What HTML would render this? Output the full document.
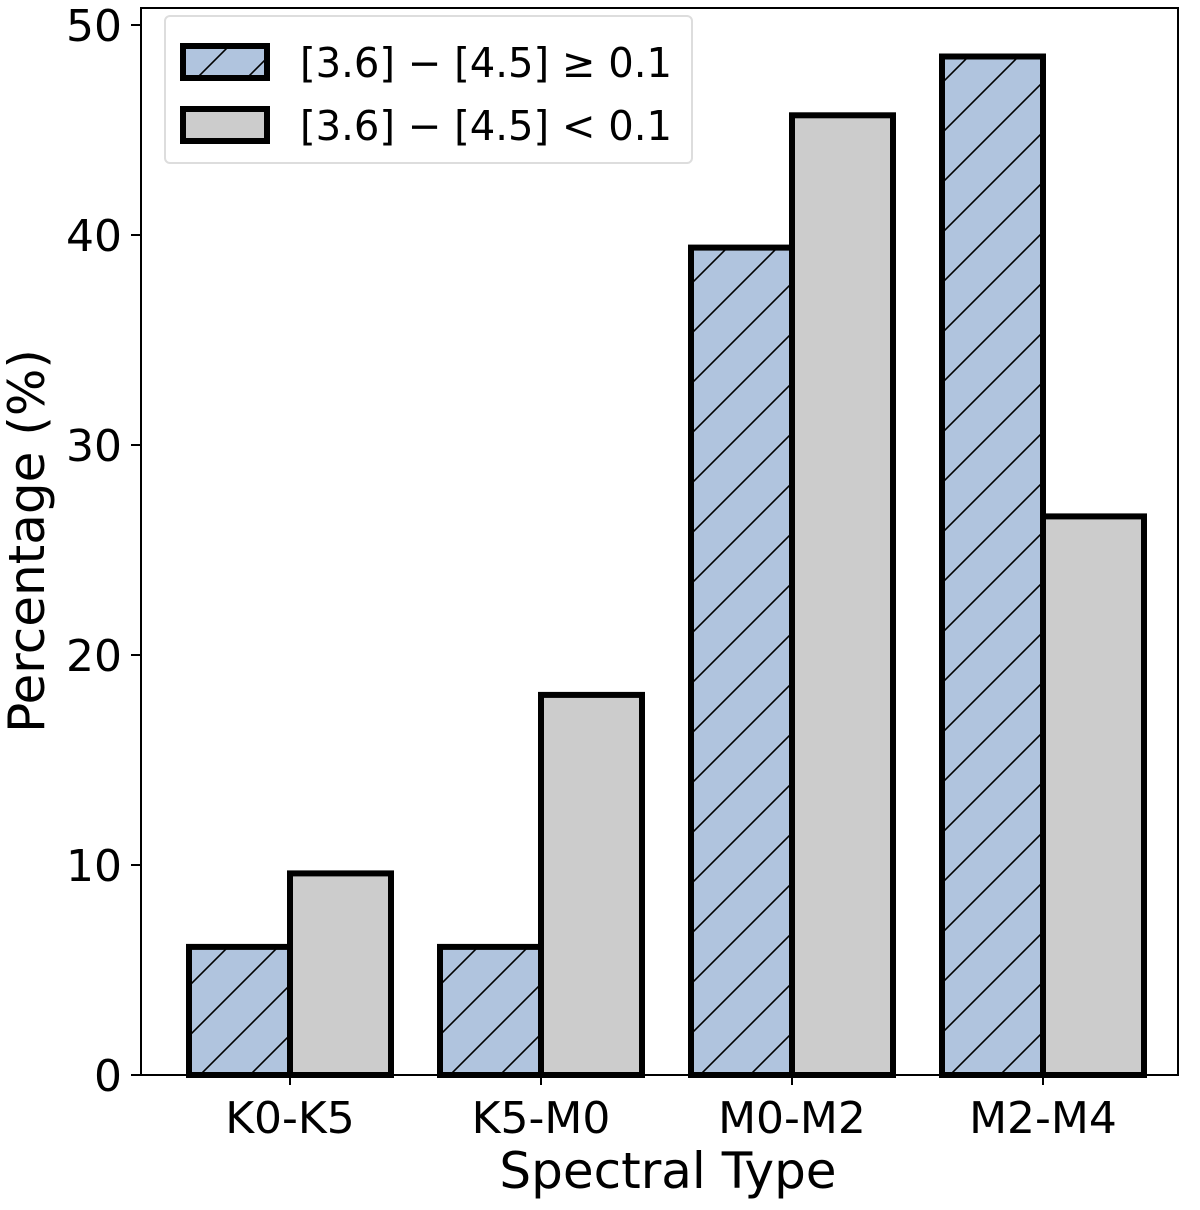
<!DOCTYPE html>
<html><head><meta charset="utf-8"><style>
html,body{margin:0;padding:0;background:#fff}
svg text{font-family:"DejaVu Sans","Liberation Sans",sans-serif;fill:#000}
</style></head><body>
<svg width="1200" height="1205" viewBox="0 0 1200 1205" xmlns="http://www.w3.org/2000/svg">
<defs>
<pattern id="hatch" patternUnits="userSpaceOnUse" width="50" height="50" x="0" y="25">
<rect width="50" height="50" fill="#b0c4de"/>
<path d="M-5,5 L5,-5 M0,50 L50,0 M45,55 L55,45" stroke="#000" stroke-width="1.6"/>
</pattern>
</defs>
<g id="bars"></g>
<rect x="141" y="8" width="1037" height="1067" fill="none" stroke="#000" stroke-width="2"/>
<g id="axes"></g>
<text x="668" y="1188" font-size="50" text-anchor="middle">Spectral Type</text>
<text transform="translate(44,541) rotate(-90)" font-size="50" text-anchor="middle">Percentage (%)</text>
<g>
<rect x="165" y="16" width="527" height="147" rx="5" fill="#fff" fill-opacity="0.8" stroke="#ddd" stroke-width="2"/>
<rect x="183" y="46" width="84" height="32" fill="url(#hatch)" stroke="#000" stroke-width="6"/>
<text x="300" y="77" font-size="41" textLength="372" lengthAdjust="spacingAndGlyphs">[3.6] − [4.5] ≥ 0.1</text>
<rect x="183" y="109" width="84" height="32" fill="#cccccc" stroke="#000" stroke-width="6"/>
<text x="300" y="140" font-size="41" textLength="372" lengthAdjust="spacingAndGlyphs">[3.6] − [4.5] &lt; 0.1</text>
</g>
</svg>
<script>
const categories = ["K0-K5","K5-M0","M0-M2","M2-M4"];
const valuesHigh = [6.1, 6.1, 39.4, 48.5];
const valuesLow = [9.6, 18.1, 45.7, 26.6];
const yTicks = [0,10,20,30,40,50];
const NS="http://www.w3.org/2000/svg";
const y0=1075, pxPerUnit=21;
function yScale(v){return y0 - v*pxPerUnit;}
function xCenter(i){return 290 + i*251;}
const barW=101;
const bars=document.getElementById('bars');
const axes=document.getElementById('axes');
function mk(tag,attrs,parent){const e=document.createElementNS(NS,tag);for(const k in attrs)e.setAttribute(k,attrs[k]);parent.appendChild(e);return e;}
categories.forEach((c,i)=>{
  const cx=xCenter(i);
  const b1=mk('rect',{x:cx-barW,y:yScale(valuesHigh[i]),width:barW,height:y0-yScale(valuesHigh[i]),fill:'url(#hatch)',stroke:'#000','stroke-width':6},bars);
  
  
  const b2=mk('rect',{x:cx,y:yScale(valuesLow[i]),width:barW,height:y0-yScale(valuesLow[i]),fill:'#cccccc',stroke:'#000','stroke-width':6},bars);
  
  
  const t=mk('line',{x1:cx,x2:cx,y1:1075,y2:1085,stroke:'#000','stroke-width':2},axes);
  
  
  const l=mk('text',{x:cx,y:1133,'font-size':44,'text-anchor':'middle'},axes);
  l.textContent=c;
  
  
});
yTicks.forEach(v=>{
  const y=yScale(v);
  const t=mk('line',{x1:131,x2:141,y1:y,y2:y,stroke:'#000','stroke-width':2},axes);
  
  
  const l=mk('text',{x:122,y:y+16,'font-size':44,'text-anchor':'end'},axes);
  l.textContent=v;
  
  
});
</script>
</body></html>
